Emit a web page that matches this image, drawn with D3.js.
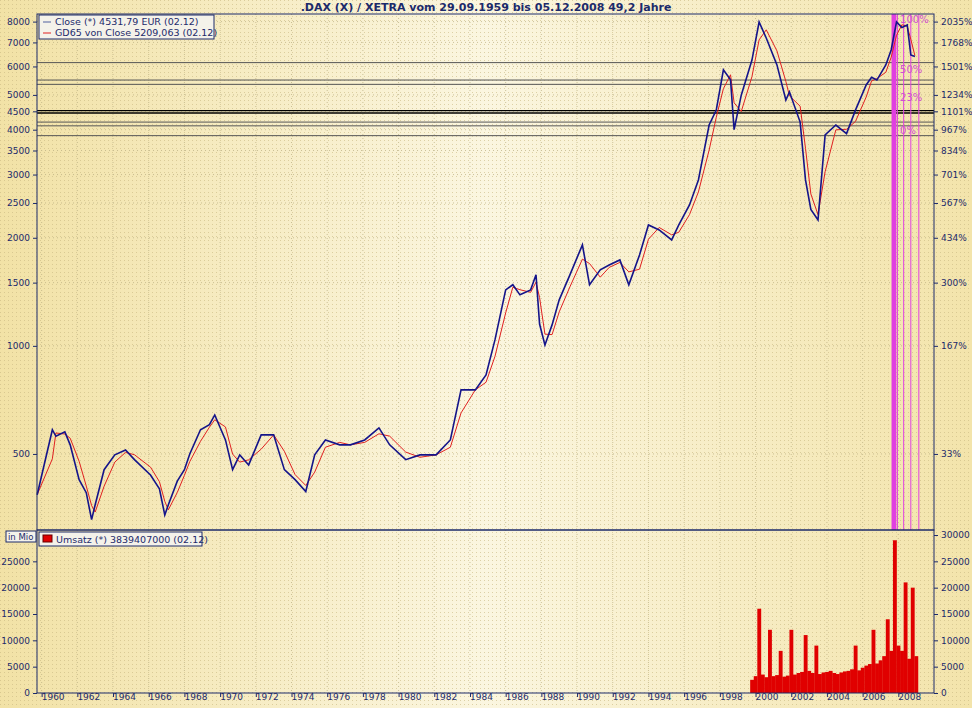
<!DOCTYPE html><html><head><meta charset="utf-8"><script src="https://d3js.org/d3.v7.min.js"></script>
<style>body{margin:0;background:#f6ecc0}text{font-family:Verdana,"DejaVu Sans",sans-serif}</style></head><body><svg id="c" width="972" height="708"></svg>
<script>
const closeYears=[1959.75,1960.6,1960.8,1961.3,1961.6,1962.1,1962.5,1962.8,1963,1963.5,1964.1,1964.7,1965.2,1966.1,1966.6,1966.9,1967.1,1967.6,1968,1968.3,1968.9,1969.4,1969.7,1970.3,1970.7,1971.1,1971.6,1972.3,1973,1973.6,1974.2,1974.8,1975.3,1975.9,1976.7,1977.3,1978.1,1978.9,1979.5,1980.4,1981.2,1982.1,1982.9,1983.5,1984.3,1984.9,1985.4,1986,1986.4,1986.8,1987.4,1987.7,1987.9,1988.2,1988.6,1989,1989.6,1990.3,1990.7,1991.3,1991.8,1992.4,1992.9,1993.5,1994,1994.6,1995.3,1995.7,1996.3,1996.8,1997.4,1997.8,1998.2,1998.6,1998.8,1999.2,1999.8,2000.2,2000.6,2001.2,2001.7,2001.9,2002.5,2002.8,2003.1,2003.5,2003.9,2004.5,2005.1,2005.6,2006.2,2006.5,2006.8,2007.3,2007.6,2007.9,2008.2,2008.5,2008.7,2008.93];
const closeValues=[385,584,560,576,530,424,390,328,361,452,497,513,482,437,400,338,361,420,452,500,584,603,642,547,452,497,466,565,565,452,424,393,497,547,530,530,547,591,530,482,497,497,547,754,754,830,1039,1432,1480,1387,1432,1577,1150,1006,1144,1343,1577,1911,1479,1628,1680,1735,1479,1791,2171,2103,1973,2171,2469,2898,4122,4535,5873,5505,4000,4990,6250,7980,7200,6060,4840,5100,4200,2898,2400,2242,3870,4122,3900,4535,5330,5600,5500,6060,6670,7980,7700,7830,6460,6400,5690,4532];
const volYears=[1999.7,1999.9,2000.1,2000.3,2000.5,2000.7,2000.9,2001.1,2001.3,2001.5,2001.7,2001.9,2002.1,2002.3,2002.5,2002.7,2002.9,2003.1,2003.3,2003.5,2003.7,2003.9,2004.1,2004.3,2004.5,2004.7,2004.9,2005.1,2005.3,2005.5,2005.7,2005.9,2006.1,2006.3,2006.5,2006.7,2006.9,2007.1,2007.3,2007.5,2007.7,2007.9,2008.1,2008.3,2008.5,2008.7,2008.9];
const volValues=[2500,3200,16000,3500,3000,12000,3200,3400,8000,3100,3300,12000,3500,3800,4000,11000,4200,3800,9000,3600,3900,4000,4200,3800,3600,3900,4100,4200,4500,9000,4300,4800,5200,5500,12000,5600,6200,7000,14000,8000,29000,9000,8000,21000,6500,20000,7000];
const leftTicks=[500,1000,1500,2000,2500,3000,3500,4000,4500,5000,6000,7000,8000];
const rightLabels=["33%","167%","300%","434%","567%","701%","834%","967%","1101%","1234%","1501%","1768%","2035%"];
const volTicks=[0,5000,10000,15000,20000,25000];
const volRight=[0,5000,10000,15000,20000,25000,30000];
const fibLevels=[3850,4100,4200,4450,4520,5350,5500,6150];
const fibLabels=[["100%",7950],["50%",5750],["23%",4800],["0%",3880]];
const magentaYears=[2007.69,2007.75,2007.82,2007.95,2008.3,2008.7,2009.15];
const xYears=d3.range(1960,2010,2);

const svg=d3.select("#c");
const L=37,R=934,T=14,MB=530,VB=693;
const defs=svg.append("defs");
const g=defs.append("linearGradient").attr("id","bg");
[[0,"#f2e2a6"],[0.5,"#fbf6e0"],[1,"#f3e4ab"]].forEach(s=>g.append("stop").attr("offset",s[0]).attr("stop-color",s[1]));
const p=defs.append("pattern").attr("id","dots").attr("width",4).attr("height",4).attr("patternUnits","userSpaceOnUse");
p.append("rect").attr("width",1).attr("height",1).attr("fill","#c8b880").attr("opacity",0.6);
svg.append("rect").attr("width",972).attr("height",708).attr("fill","url(#bg)");
svg.append("rect").attr("width",972).attr("height",708).attr("fill","url(#dots)");

const x=d3.scaleLinear().domain([1959.74,2010.0]).range([L,R]);
const y=d3.scaleLog().domain([307,8400]).range([MB,T]);
const yv=d3.scaleLinear().domain([0,30000]).range([VB,535]);

const gr=svg.append("g").attr("stroke","#b8ad80").attr("stroke-dasharray","1,3").attr("opacity",0.7);
xYears.forEach(v=>gr.append("line").attr("x1",x(v)).attr("x2",x(v)).attr("y1",T).attr("y2",VB));
leftTicks.forEach(v=>gr.append("line").attr("x1",L).attr("x2",R).attr("y1",y(v)).attr("y2",y(v)));

fibLevels.forEach((v,i)=>svg.append("line").attr("x1",L).attr("x2",R).attr("y1",y(v)).attr("y2",y(v)).attr("stroke",i==3||i==4?"#000":"#555").attr("stroke-width",i==3||i==4?1.4:1));
magentaYears.forEach((v,i)=>svg.append("line").attr("x1",x(v)).attr("x2",x(v)).attr("y1",T).attr("y2",MB).attr("stroke","#e040e0").attr("stroke-width",i<3?2.5:1));
fibLabels.forEach(f=>svg.append("text").attr("x",x(2008.1)).attr("y",y(f[1])).attr("font-size",10).attr("fill","#d050d0").text(f[0]));

const line=d3.line().x(d=>x(d[0])).y(d=>y(d[1]));
const pts=closeYears.map((v,i)=>[v,closeValues[i]]);
const ma=pts.map((d,i)=>{const s=pts.slice(Math.max(0,i-1),i+1);return [d[0],d3.mean(s,e=>e[1])];});
svg.append("path").attr("d",line(ma)).attr("fill","none").attr("stroke","#e02020").attr("stroke-width",1);
svg.append("path").attr("d",line(pts)).attr("fill","none").attr("stroke","#14148a").attr("stroke-width",1.6);

volYears.forEach((v,i)=>{svg.append("rect").attr("x",x(v)).attr("width",x(v+0.2)-x(v)+0.3).attr("y",yv(volValues[i])).attr("height",VB-yv(volValues[i])).attr("fill","#e00000");});

svg.append("rect").attr("x",L).attr("y",T).attr("width",R-L).attr("height",MB-T).attr("fill","none").attr("stroke","#1c2a6b");
svg.append("rect").attr("x",L).attr("y",MB).attr("width",R-L).attr("height",VB-MB).attr("fill","none").attr("stroke","#1c2a6b");

svg.append("g").attr("transform",`translate(${L},0)`).call(d3.axisLeft(y).tickValues(leftTicks).tickFormat(d3.format("d")).tickSize(4)).call(a=>a.select(".domain").remove());
svg.append("g").attr("transform",`translate(${R},0)`).call(d3.axisRight(y).tickValues(leftTicks).tickFormat((d,i)=>rightLabels[i]).tickSize(4)).call(a=>a.select(".domain").remove());
svg.append("g").attr("transform",`translate(${L},0)`).call(d3.axisLeft(yv).tickValues(volTicks).tickFormat(d3.format("d")).tickSize(4)).call(a=>a.select(".domain").remove());
svg.append("g").attr("transform",`translate(${R},0)`).call(d3.axisRight(yv).tickValues(volRight).tickFormat(d3.format("d")).tickSize(4)).call(a=>a.select(".domain").remove());
const xa=svg.append("g").attr("transform",`translate(0,${VB})`).call(d3.axisBottom(x).tickValues(xYears).tickFormat(d3.format("d")).tickSize(4));
xa.select(".domain").remove();
svg.selectAll(".tick text").attr("font-size",9).attr("fill","#1c2a6b").attr("font-family","Verdana,DejaVu Sans");
xa.selectAll("text").attr("dx",11).attr("dy",0);
svg.selectAll(".tick line").attr("stroke","#1c2a6b");

svg.append("text").attr("x",486).attr("y",11).attr("text-anchor","middle").attr("font-size",11).attr("font-weight","bold").attr("fill","#1c2a6b").text(".DAX (X) / XETRA vom 29.09.1959 bis 05.12.2008 49,2 Jahre");
svg.append("rect").attr("x",39).attr("y",15).attr("width",175).attr("height",24).attr("fill","#f4f2ea").attr("stroke","#1c2a6b");
svg.append("line").attr("x1",43).attr("x2",51).attr("y1",22).attr("y2",22).attr("stroke","#5060a0");
svg.append("line").attr("x1",43).attr("x2",51).attr("y1",33).attr("y2",33).attr("stroke","#e02020");
svg.append("text").attr("x",55).attr("y",25).attr("font-size",9.5).attr("fill","#1c2a6b").text("Close (*) 4531,79 EUR (02.12)");
svg.append("text").attr("x",55).attr("y",36).attr("font-size",9.5).attr("fill","#1c2a6b").text("GD65 von Close 5209,063 (02.12)");
svg.append("rect").attr("x",6).attr("y",531).attr("width",30).attr("height",11).attr("fill","#f4f2ea").attr("stroke","#1c2a6b");
svg.append("text").attr("x",8).attr("y",540).attr("font-size",8.5).attr("fill","#1c2a6b").text("in Mio");
svg.append("rect").attr("x",39).attr("y",532).attr("width",163).attr("height",14).attr("fill","#f4f2ea").attr("stroke","#1c2a6b");
svg.append("rect").attr("x",43).attr("y",535).attr("width",9).attr("height",7).attr("fill","#e00000").attr("stroke","#600");
svg.append("text").attr("x",56).attr("y",543).attr("font-size",9.5).attr("fill","#1c2a6b").text("Umsatz (*) 3839407000 (02.12)");
</script></body></html>
